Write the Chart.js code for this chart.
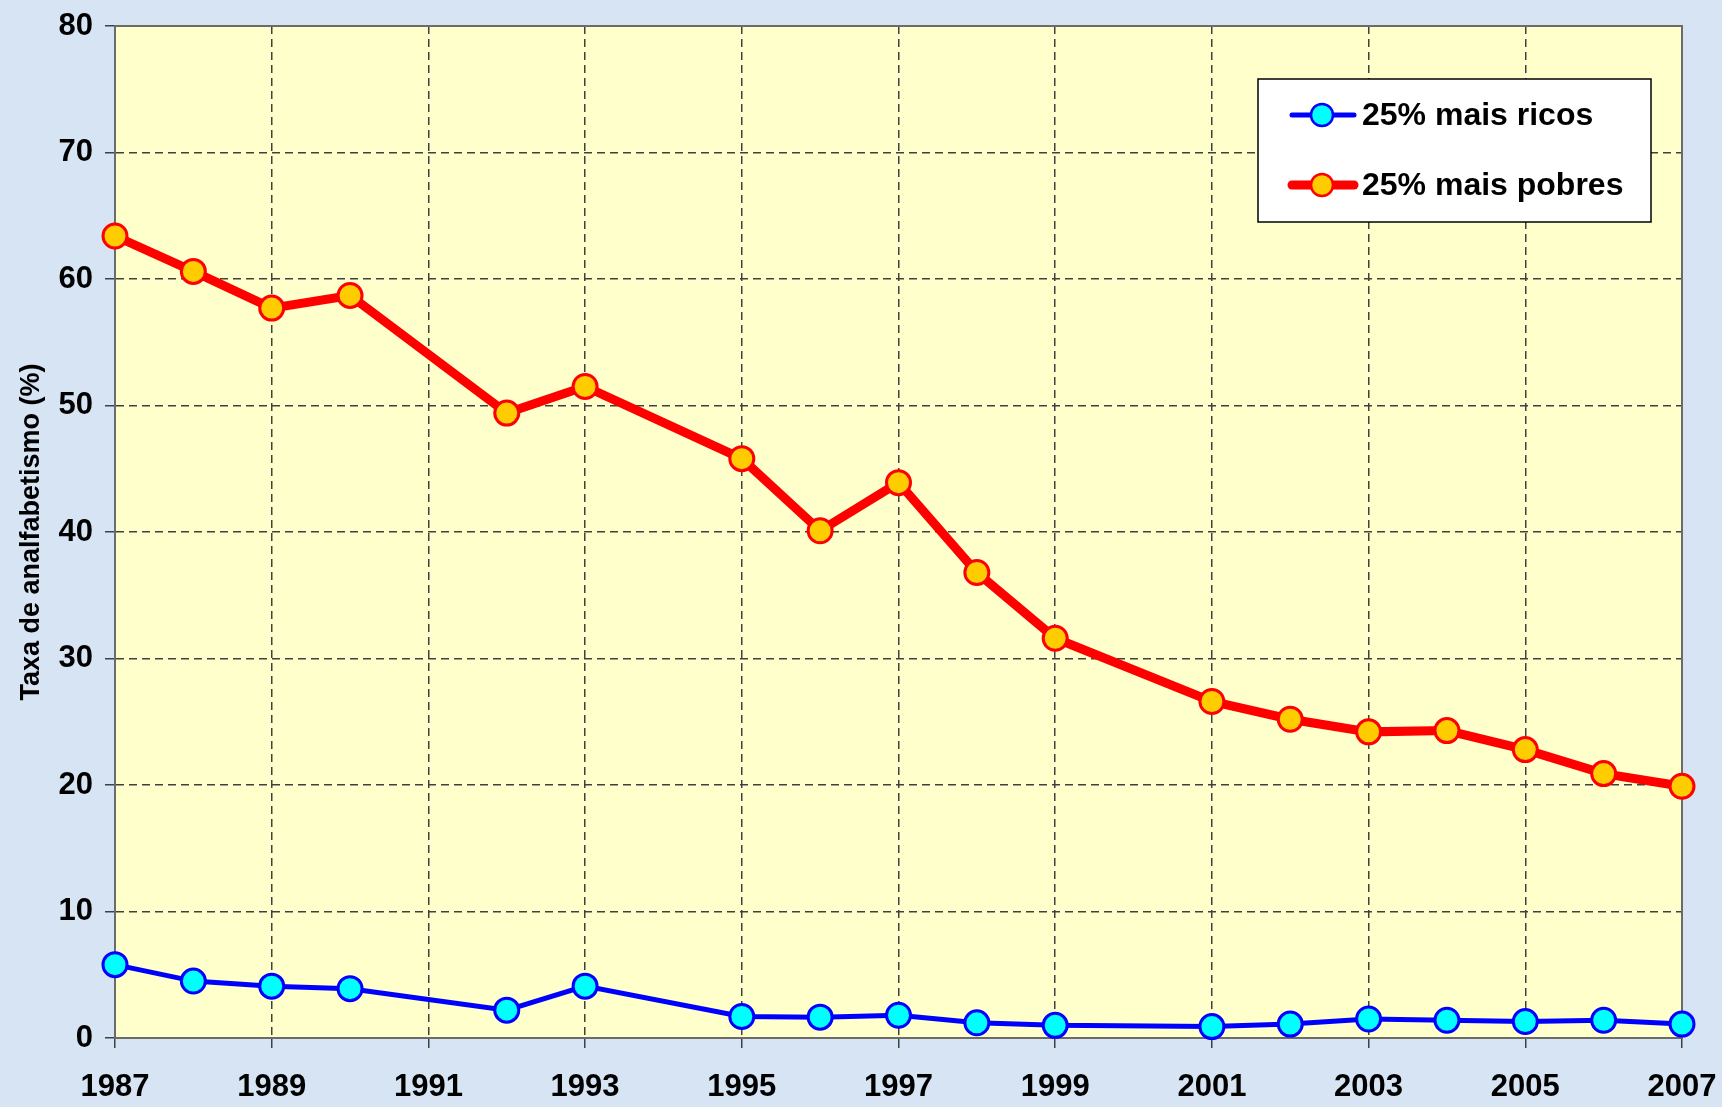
<!DOCTYPE html>
<html>
<head>
<meta charset="utf-8">
<script src="https://cdn.jsdelivr.net/npm/chart.js@4.4.0/dist/chart.umd.min.js"></script>
<style>
  html, body { margin: 0; padding: 0; }
  body { background: #d6e4f4; width: 1722px; height: 1107px; overflow: hidden; }
  #wrap { position: relative; width: 1722px; height: 1107px; }
</style>
</head>
<body>
<div id="wrap"><canvas id="grafico" width="1722" height="1107"></canvas></div>
<script>
// dados
const anos = [1987, 1988, 1989, 1990, 1992, 1993, 1995, 1996, 1997, 1998, 1999, 2001, 2002, 2003, 2004, 2005, 2006, 2007]
const ricos = [5.8, 4.5, 4.1, 3.9, 2.2, 4.1, 1.7, 1.65, 1.8, 1.2, 1.0, 0.9, 1.1, 1.5, 1.4, 1.3, 1.4, 1.1]
const pobres = [63.4, 60.6, 57.7, 58.7, 49.4, 51.5, 45.8, 40.1, 43.9, 36.8, 31.6, 26.6, 25.2, 24.2, 24.3, 22.8, 20.9, 19.9]
const nomes = ["25% mais ricos", "25% mais pobres"]
const tituloY = "Taxa de analfabetismo (%)"

const fonte = "'Liberation Sans', Arial, sans-serif"

const pontos = (valores) => anos.map((a, i) => ({ x: a, y: valores[i] }))

// fundo amarelo + moldura da area do grafico
const fundoPlot = {
  id: 'fundoPlot',
  beforeDraw(chart) {
    const { ctx, chartArea: a } = chart
    ctx.save()
    ctx.fillStyle = '#ffffcc'
    ctx.fillRect(a.left, a.top, a.right - a.left, a.bottom - a.top)
    ctx.restore()
  },
  beforeDatasetsDraw(chart) {
    const { ctx, chartArea: a } = chart
    ctx.save()
    ctx.strokeStyle = '#6b6b6b'
    ctx.lineWidth = 2
    ctx.strokeRect(a.left, a.top, a.right - a.left, a.bottom - a.top)
    ctx.restore()
  }
}

// legenda dentro do grafico
const legendaBox = {
  id: 'legendaBox',
  afterDraw(chart) {
    const ctx = chart.ctx
    const x = 1258, y = 79, w = 393, h = 143
    ctx.save()
    ctx.fillStyle = '#ffffff'
    ctx.fillRect(x, y, w, h)
    ctx.strokeStyle = '#000'
    ctx.lineWidth = 1.5
    ctx.strokeRect(x, y, w, h)
    const linhas = [115, 185]
    chart.data.datasets.forEach((ds, i) => {
      const cy = linhas[i]
      ctx.strokeStyle = ds.borderColor
      ctx.lineWidth = ds.borderWidth
      ctx.lineCap = 'round'
      ctx.beginPath()
      ctx.moveTo(1292, cy)
      ctx.lineTo(1354, cy)
      ctx.stroke()
      ctx.beginPath()
      ctx.arc(1322, cy, 11, 0, Math.PI * 2)
      ctx.fillStyle = ds.pointBackgroundColor
      ctx.fill()
      ctx.lineWidth = 2.5
      ctx.strokeStyle = ds.pointBorderColor
      ctx.stroke()
      ctx.fillStyle = '#000'
      ctx.font = `bold 32px ${fonte}`
      ctx.textBaseline = 'middle'
      ctx.fillText(ds.label, 1362, cy + 1)
    })
    ctx.restore()
  }
}

const gradeOpts = {
  color: '#404040',
  lineWidth: 1.5,
  tickLength: 10,
  tickColor: '#404040',
  tickBorderDash: [1, 0]
}

const ctx = document.getElementById('grafico')

window.grafico = new Chart(ctx, {
  type: 'line',
  data: {
    datasets: [{
      label: nomes[0],
      data: pontos(ricos),
      borderColor: '#0000ff',
      borderWidth: 5,
      pointRadius: 12,
      pointBackgroundColor: '#00ffff',
      pointBorderColor: '#0000ff',
      pointBorderWidth: 3,
      clip: false
    }, {
      label: nomes[1],
      data: pontos(pobres),
      borderColor: '#ff0000',
      borderWidth: 9,
      pointRadius: 12,
      pointBackgroundColor: '#ffcc00',
      pointBorderColor: '#ff0000',
      pointBorderWidth: 3,
      clip: false
    }]
  },
  options: {
    responsive: false,
    animation: false,
    devicePixelRatio: 1,
    layout: { padding: { left: 0, right: 40, top: 26, bottom: 0 } },
    plugins: { legend: { display: false }, tooltip: { enabled: false } },
    scales: {
      x: {
        type: 'linear',
        min: 1987,
        max: 2007,
        afterFit: (s) => { s.height = 69; s.paddingRight = 0; s.paddingLeft = 0 },
        ticks: {
          stepSize: 2,
          color: '#000',
          font: { family: fonte, size: 31, weight: 'bold' },
          padding: 21,
          maxRotation: 0,
          callback: (v) => String(v)
        },
        grid: gradeOpts,
        border: { display: true, color: '#6b6b6b', width: 2, dash: [8, 5] }
      },
      y: {
        min: 0,
        max: 80,
        afterFit: (s) => { s.width = 115; s.paddingTop = 0; s.paddingBottom = 0 },
        ticks: {
          stepSize: 10,
          color: '#000',
          font: { family: fonte, size: 31, weight: 'bold' },
          padding: 12
        },
        grid: gradeOpts,
        border: { display: true, color: '#6b6b6b', width: 2, dash: [8, 5] },
        title: {
          display: true,
          text: tituloY,
          color: '#000',
          font: { family: fonte, size: 27, weight: 'bold' },
          padding: { top: 15, bottom: 0 }
        }
      }
    }
  },
  plugins: [fundoPlot, legendaBox]
})
</script>
</body>
</html>
